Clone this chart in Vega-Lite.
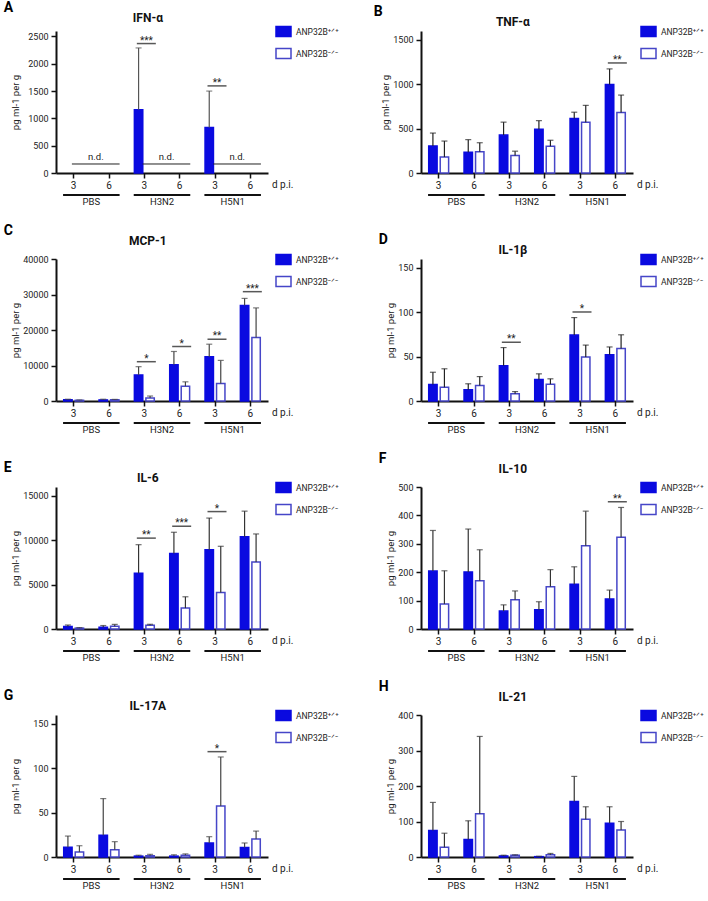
{
  "$schema": "https://vega.github.io/schema/vega-lite/v6.json",
  "background": "white",
  "padding": {"left": 3, "top": 1, "right": 0, "bottom": 0},
  "config": {
    "font": "Roboto",
    "view": {"stroke": null},
    "axis": {"grid": false, "domainColor": "#111", "domainWidth": 2, "tickColor": "#111", "tickWidth": 1.5, "tickSize": 5, "labelFontSize": 9, "labelColor": "#222", "titleFontSize": 9.5, "titleFontWeight": "normal", "titleColor": "#222", "labelPadding": 3, "titlePadding": 2, "labelOverlap": false},
    "legend": {"orient": "none", "legendX": 219, "legendY": -8, "symbolType": "M-1,-0.67H1V0.67H-1Z", "symbolSize": 225, "symbolStrokeWidth": 1.5, "labelFontSize": 8.5, "labelColor": "#222", "rowPadding": 5, "labelOffset": 4, "padding": 0},
    "title": {"fontSize": 14, "fontWeight": "bold", "anchor": "start", "frame": "bounds", "offset": 0, "dy": 7, "dx": -7, "color": "#000"},
    "text": {"fontSize": 9.5, "color": "#222"}
  },
  "datasets": {
    "groups": [{"n": "PBS", "s": "P3", "e": "P6"}, {"n": "H3N2", "s": "A3", "e": "A6"}, {"n": "H5N1", "s": "B3", "e": "B6"}],
    "A": [{"c": "A3", "g": "WT", "m": 1160, "h": 2290}, {"c": "B3", "g": "WT", "m": 835, "h": 1500}],
    "A_sig": [{"c": "A3", "y": 2370, "s": "***"}, {"c": "B3", "y": 1595, "s": "**"}],
    "A_nd": [{"s": "P3", "e": "P6", "y": 165, "t": "n.d."}, {"s": "A3", "e": "A6", "y": 165, "t": "n.d."}, {"s": "B3", "e": "B6", "y": 165, "t": "n.d."}],
    "B": [{"c": "P3", "g": "WT", "m": 305, "h": 450}, {"c": "P3", "g": "KO", "m": 180, "h": 360}, {"c": "P6", "g": "WT", "m": 235, "h": 376}, {"c": "P6", "g": "KO", "m": 239, "h": 341}, {"c": "A3", "g": "WT", "m": 427, "h": 573}, {"c": "A3", "g": "KO", "m": 197, "h": 246}, {"c": "A6", "g": "WT", "m": 492, "h": 590}, {"c": "A6", "g": "KO", "m": 302, "h": 369}, {"c": "B3", "g": "WT", "m": 615, "h": 685}, {"c": "B3", "g": "KO", "m": 573, "h": 762}, {"c": "B6", "g": "WT", "m": 996, "h": 1173}, {"c": "B6", "g": "KO", "m": 683, "h": 878}],
    "B_sig": [{"c": "B6", "y": 1240, "s": "**"}],
    "C": [{"c": "P3", "g": "WT", "m": 350, "h": 500}, {"c": "P3", "g": "KO", "m": 200, "h": 300}, {"c": "P6", "g": "WT", "m": 300, "h": 500}, {"c": "P6", "g": "KO", "m": 350, "h": 450}, {"c": "A3", "g": "WT", "m": 7350, "h": 9670}, {"c": "A3", "g": "KO", "m": 840, "h": 1400}, {"c": "A6", "g": "WT", "m": 10230, "h": 13950}, {"c": "A6", "g": "KO", "m": 4190, "h": 5400}, {"c": "B3", "g": "WT", "m": 12460, "h": 16000}, {"c": "B3", "g": "KO", "m": 4930, "h": 11440}, {"c": "B6", "g": "WT", "m": 26900, "h": 28900}, {"c": "B6", "g": "KO", "m": 17860, "h": 26230}],
    "C_sig": [{"c": "A3", "y": 11070, "s": "*"}, {"c": "A6", "y": 15350, "s": "*"}, {"c": "B3", "y": 17400, "s": "**"}, {"c": "B6", "y": 30800, "s": "***"}],
    "D": [{"c": "P3", "g": "WT", "m": 18.7, "h": 32.4}, {"c": "P3", "g": "KO", "m": 15.5, "h": 36.3}, {"c": "P6", "g": "WT", "m": 12.7, "h": 19.4}, {"c": "P6", "g": "KO", "m": 17.6, "h": 27.5}, {"c": "A3", "g": "WT", "m": 39.8, "h": 60.2}, {"c": "A3", "g": "KO", "m": 8.1, "h": 10.6}, {"c": "A6", "g": "WT", "m": 24.3, "h": 30.6}, {"c": "A6", "g": "KO", "m": 19, "h": 25}, {"c": "B3", "g": "WT", "m": 74.3, "h": 94}, {"c": "B3", "g": "KO", "m": 49.6, "h": 63}, {"c": "B6", "g": "WT", "m": 52.1, "h": 60.9}, {"c": "B6", "g": "KO", "m": 59.1, "h": 74.6}],
    "D_sig": [{"c": "A3", "y": 66.2, "s": "**"}, {"c": "B3", "y": 100.3, "s": "*"}],
    "E": [{"c": "P3", "g": "WT", "m": 280, "h": 450}, {"c": "P3", "g": "KO", "m": 100, "h": 150}, {"c": "P6", "g": "WT", "m": 210, "h": 390}, {"c": "P6", "g": "KO", "m": 300, "h": 520}, {"c": "A3", "g": "WT", "m": 6270, "h": 9500}, {"c": "A3", "g": "KO", "m": 420, "h": 530}, {"c": "A6", "g": "WT", "m": 8520, "h": 10900}, {"c": "A6", "g": "KO", "m": 2360, "h": 3630}, {"c": "B3", "g": "WT", "m": 8940, "h": 12500}, {"c": "B3", "g": "KO", "m": 4110, "h": 9320}, {"c": "B6", "g": "WT", "m": 10390, "h": 13280}, {"c": "B6", "g": "KO", "m": 7540, "h": 10710}],
    "E_sig": [{"c": "A3", "y": 10240, "s": "**"}, {"c": "A6", "y": 11580, "s": "***"}, {"c": "B3", "y": 13230, "s": "*"}],
    "F": [{"c": "P3", "g": "WT", "m": 204, "h": 347}, {"c": "P3", "g": "KO", "m": 88, "h": 205}, {"c": "P6", "g": "WT", "m": 201, "h": 352}, {"c": "P6", "g": "KO", "m": 170, "h": 279}, {"c": "A3", "g": "WT", "m": 63, "h": 85}, {"c": "A3", "g": "KO", "m": 103, "h": 134}, {"c": "A6", "g": "WT", "m": 68, "h": 96}, {"c": "A6", "g": "KO", "m": 149, "h": 209}, {"c": "B3", "g": "WT", "m": 158, "h": 219}, {"c": "B3", "g": "KO", "m": 293, "h": 415}, {"c": "B6", "g": "WT", "m": 106, "h": 137}, {"c": "B6", "g": "KO", "m": 323, "h": 428}],
    "F_sig": [{"c": "B6", "y": 448, "s": "**"}],
    "G": [{"c": "P3", "g": "WT", "m": 10.9, "h": 23.6}, {"c": "P3", "g": "KO", "m": 5.6, "h": 12.7}, {"c": "P6", "g": "WT", "m": 24.6, "h": 65.8}, {"c": "P6", "g": "KO", "m": 8.1, "h": 17.3}, {"c": "A3", "g": "WT", "m": 1, "h": 2}, {"c": "A3", "g": "KO", "m": 1.5, "h": 3}, {"c": "A6", "g": "WT", "m": 1, "h": 2.5}, {"c": "A6", "g": "KO", "m": 2, "h": 3.5}, {"c": "B3", "g": "WT", "m": 15.8, "h": 22.9}, {"c": "B3", "g": "KO", "m": 57.4, "h": 112.7}, {"c": "B6", "g": "WT", "m": 10.6, "h": 15.8}, {"c": "B6", "g": "KO", "m": 20.4, "h": 29.2}],
    "G_sig": [{"c": "B3", "y": 118.7, "s": "*"}],
    "H": [{"c": "P3", "g": "WT", "m": 74.5, "h": 153.8}, {"c": "P3", "g": "KO", "m": 27.4, "h": 67}, {"c": "P6", "g": "WT", "m": 49, "h": 102}, {"c": "P6", "g": "KO", "m": 121.7, "h": 339.6}, {"c": "A3", "g": "WT", "m": 3, "h": 5}, {"c": "A3", "g": "KO", "m": 5, "h": 6}, {"c": "A6", "g": "WT", "m": 1, "h": 2}, {"c": "A6", "g": "KO", "m": 6, "h": 10}, {"c": "B3", "g": "WT", "m": 156.6, "h": 227}, {"c": "B3", "g": "KO", "m": 106.6, "h": 141.5}, {"c": "B6", "g": "WT", "m": 95.3, "h": 141.5}, {"c": "B6", "g": "KO", "m": 76.4, "h": 100}]
  },
  "columns": 2,
  "spacing": {"row": 17, "column": 34},
  "resolve": {"scale": {"fill": "independent", "stroke": "independent"}},
  "concat": [
    {
      "title": {"text": "A"},
      "width": 212, "height": 142,
      "layer": [
        {"data": {"name": "A"}, "mark": {"type": "bar", "strokeWidth": 1.5},
         "encoding": {
           "x": {"field": "c", "type": "nominal", "title": null, "scale": {"domain": ["P3", "P6", "A3", "A6", "B3", "B6"], "paddingInner": 0, "paddingOuter": 0}, "axis": {"orient": "bottom", "title": null, "labelExpr": "slice(datum.value, 1)", "labelAngle": 0, "bandPosition": 0.5, "tickSize": 5, "labelFontSize": 10, "labelPadding": 2}},
           "xOffset": {"field": "g", "type": "nominal", "scale": {"domain": ["WT", "KO"], "paddingInner": 0.27, "paddingOuter": 0.67}},
           "y": {"field": "m", "type": "quantitative", "title": "pg ml-1 per g", "scale": {"domain": [0, 2500]}, "axis": {"title": "pg ml-1 per g", "titlePadding": 7, "values": [0, 500, 1000, 1500, 2000, 2500], "tickCount": 10, "format": "d"}},
           "fill": {"field": "g", "type": "nominal", "scale": {"domain": ["WT", "KO"], "range": ["#0a0ae0", "#ffffff"]}, "legend": {"title": null, "labelExpr": "datum.value == 'WT' ? 'ANP32B⁺ᐟ⁺' : 'ANP32B⁻ᐟ⁻'"}},
           "stroke": {"field": "g", "type": "nominal", "scale": {"domain": ["WT", "KO"], "range": ["#0a0ae0", "#4646c8"]}, "legend": {"title": null, "labelExpr": "datum.value == 'WT' ? 'ANP32B⁺ᐟ⁺' : 'ANP32B⁻ᐟ⁻'"}}
         }},
        {"data": {"name": "A"}, "mark": {"type": "rule", "color": "#555", "strokeWidth": 1.2},
         "encoding": {"x": {"field": "c", "type": "nominal"}, "xOffset": {"field": "g", "type": "nominal"}, "y": {"field": "m", "type": "quantitative"}, "y2": {"field": "h"}}},
        {"data": {"name": "A"}, "mark": {"type": "tick", "orient": "horizontal", "size": 6, "thickness": 1.2, "color": "#555"},
         "encoding": {"x": {"field": "c", "type": "nominal"}, "xOffset": {"field": "g", "type": "nominal"}, "y": {"field": "h", "type": "quantitative"}}},
        {"data": {"name": "A_sig"}, "mark": {"type": "tick", "orient": "horizontal", "size": 19, "thickness": 1.5, "color": "#111", "xOffset": 2},
         "encoding": {"x": {"field": "c", "type": "nominal"}, "y": {"field": "y", "type": "quantitative"}}},
        {"data": {"name": "A_sig"}, "mark": {"type": "text", "baseline": "middle", "dy": -3, "dx": 2, "fontSize": 10},
         "encoding": {"x": {"field": "c", "type": "nominal"}, "y": {"field": "y", "type": "quantitative"}, "text": {"field": "s"}}},
        {"data": {"name": "A_nd"}, "mark": {"type": "rule", "color": "#222", "strokeWidth": 1},
         "encoding": {"x": {"field": "s", "type": "nominal", "bandPosition": 0.45}, "x2": {"field": "e", "bandPosition": 0.8}, "y": {"field": "y", "type": "quantitative"}}},
        {"data": {"name": "A_nd"}, "mark": {"type": "text", "baseline": "bottom", "dy": -2},
         "encoding": {"x": {"field": "e", "type": "nominal", "bandPosition": 0.13}, "y": {"field": "y", "type": "quantitative"}, "text": {"field": "t"}}},
        {"data": {"name": "groups"}, "mark": {"type": "rule", "color": "#111", "strokeWidth": 2, "yOffset": 22},
         "encoding": {"x": {"field": "s", "type": "nominal", "bandPosition": 0.2}, "x2": {"field": "e", "bandPosition": 0.8}, "y": {"datum": 0}}},
        {"data": {"name": "groups"}, "mark": {"type": "text", "baseline": "middle", "dy": 29},
         "encoding": {"x": {"field": "e", "type": "nominal", "bandPosition": 0}, "y": {"datum": 0}, "text": {"field": "n"}}},
        {"data": {"values": [{"t": "d p.i.", "c": "B6", "v": 0}]}, "mark": {"type": "text", "baseline": "middle", "align": "left", "dx": 4, "dy": 12, "fontSize": 10},
         "encoding": {"x": {"field": "c", "type": "nominal", "bandPosition": 1}, "y": {"field": "v", "type": "quantitative"}, "text": {"field": "t"}}},
        {"data": {"values": [{"t": "IFN-α", "c": "A3", "v": 2500}]}, "mark": {"type": "text", "baseline": "middle", "dy": -18, "fontSize": 12, "fontWeight": "bold", "color": "#111"},
         "encoding": {"x": {"field": "c", "type": "nominal", "bandPosition": 0.6}, "y": {"field": "v", "type": "quantitative"}, "text": {"field": "t"}}}
      ]
    },
    {
      "title": {"text": "B"},
      "width": 212, "height": 142,
      "layer": [
        {"data": {"name": "B"}, "mark": {"type": "bar", "strokeWidth": 1.5},
         "encoding": {
           "x": {"field": "c", "type": "nominal", "title": null, "scale": {"domain": ["P3", "P6", "A3", "A6", "B3", "B6"], "paddingInner": 0, "paddingOuter": 0}, "axis": {"orient": "bottom", "title": null, "labelExpr": "slice(datum.value, 1)", "labelAngle": 0, "bandPosition": 0.5, "tickSize": 5, "labelFontSize": 10, "labelPadding": 2}},
           "xOffset": {"field": "g", "type": "nominal", "scale": {"domain": ["WT", "KO"], "paddingInner": 0.27, "paddingOuter": 0.67}},
           "y": {"field": "m", "type": "quantitative", "title": "pg ml-1 per g", "scale": {"domain": [0, 1500]}, "axis": {"title": "pg ml-1 per g", "values": [0, 500, 1000, 1500], "tickCount": 10, "format": "d"}},
           "fill": {"field": "g", "type": "nominal", "scale": {"domain": ["WT", "KO"], "range": ["#0a0ae0", "#ffffff"]}, "legend": {"title": null, "labelExpr": "datum.value == 'WT' ? 'ANP32B⁺ᐟ⁺' : 'ANP32B⁻ᐟ⁻'"}},
           "stroke": {"field": "g", "type": "nominal", "scale": {"domain": ["WT", "KO"], "range": ["#0a0ae0", "#4646c8"]}, "legend": {"title": null, "labelExpr": "datum.value == 'WT' ? 'ANP32B⁺ᐟ⁺' : 'ANP32B⁻ᐟ⁻'"}}
         }},
        {"data": {"name": "B"}, "mark": {"type": "rule", "color": "#222", "strokeWidth": 1.2},
         "encoding": {"x": {"field": "c", "type": "nominal"}, "xOffset": {"field": "g", "type": "nominal"}, "y": {"field": "m", "type": "quantitative"}, "y2": {"field": "h"}}},
        {"data": {"name": "B"}, "mark": {"type": "tick", "orient": "horizontal", "size": 6, "thickness": 1.2, "color": "#222"},
         "encoding": {"x": {"field": "c", "type": "nominal"}, "xOffset": {"field": "g", "type": "nominal"}, "y": {"field": "h", "type": "quantitative"}}},
        {"data": {"name": "B_sig"}, "mark": {"type": "tick", "orient": "horizontal", "size": 19, "thickness": 1.5, "color": "#111", "xOffset": 2},
         "encoding": {"x": {"field": "c", "type": "nominal"}, "y": {"field": "y", "type": "quantitative"}}},
        {"data": {"name": "B_sig"}, "mark": {"type": "text", "baseline": "middle", "dy": -3, "dx": 2, "fontSize": 10},
         "encoding": {"x": {"field": "c", "type": "nominal"}, "y": {"field": "y", "type": "quantitative"}, "text": {"field": "s"}}},
        {"data": {"name": "groups"}, "mark": {"type": "rule", "color": "#111", "strokeWidth": 2, "yOffset": 22},
         "encoding": {"x": {"field": "s", "type": "nominal", "bandPosition": 0.2}, "x2": {"field": "e", "bandPosition": 0.8}, "y": {"datum": 0}}},
        {"data": {"name": "groups"}, "mark": {"type": "text", "baseline": "middle", "dy": 29},
         "encoding": {"x": {"field": "e", "type": "nominal", "bandPosition": 0}, "y": {"datum": 0}, "text": {"field": "n"}}},
        {"data": {"values": [{"t": "d p.i.", "c": "B6", "v": 0}]}, "mark": {"type": "text", "baseline": "middle", "align": "left", "dx": 4, "dy": 12, "fontSize": 10},
         "encoding": {"x": {"field": "c", "type": "nominal", "bandPosition": 1}, "y": {"field": "v", "type": "quantitative"}, "text": {"field": "t"}}},
        {"data": {"values": [{"t": "TNF-α", "c": "A3", "v": 1500}]}, "mark": {"type": "text", "baseline": "middle", "dy": -18, "fontSize": 12, "fontWeight": "bold", "color": "#111"},
         "encoding": {"x": {"field": "c", "type": "nominal", "bandPosition": 0.6}, "y": {"field": "v", "type": "quantitative"}, "text": {"field": "t"}}}
      ]
    },
    {
      "title": {"text": "C"},
      "width": 212, "height": 142,
      "layer": [
        {"data": {"name": "C"}, "mark": {"type": "bar", "strokeWidth": 1.5},
         "encoding": {
           "x": {"field": "c", "type": "nominal", "title": null, "scale": {"domain": ["P3", "P6", "A3", "A6", "B3", "B6"], "paddingInner": 0, "paddingOuter": 0}, "axis": {"orient": "bottom", "title": null, "labelExpr": "slice(datum.value, 1)", "labelAngle": 0, "bandPosition": 0.5, "tickSize": 5, "labelFontSize": 10, "labelPadding": 2}},
           "xOffset": {"field": "g", "type": "nominal", "scale": {"domain": ["WT", "KO"], "paddingInner": 0.27, "paddingOuter": 0.67}},
           "y": {"field": "m", "type": "quantitative", "title": "pg ml-1 per g", "scale": {"domain": [0, 40000]}, "axis": {"title": "pg ml-1 per g", "values": [0, 10000, 20000, 30000, 40000], "tickCount": 10, "format": "d"}},
           "fill": {"field": "g", "type": "nominal", "scale": {"domain": ["WT", "KO"], "range": ["#0a0ae0", "#ffffff"]}, "legend": {"title": null, "labelExpr": "datum.value == 'WT' ? 'ANP32B⁺ᐟ⁺' : 'ANP32B⁻ᐟ⁻'"}},
           "stroke": {"field": "g", "type": "nominal", "scale": {"domain": ["WT", "KO"], "range": ["#0a0ae0", "#4646c8"]}, "legend": {"title": null, "labelExpr": "datum.value == 'WT' ? 'ANP32B⁺ᐟ⁺' : 'ANP32B⁻ᐟ⁻'"}}
         }},
        {"data": {"name": "C"}, "mark": {"type": "rule", "color": "#444", "strokeWidth": 1.2},
         "encoding": {"x": {"field": "c", "type": "nominal"}, "xOffset": {"field": "g", "type": "nominal"}, "y": {"field": "m", "type": "quantitative"}, "y2": {"field": "h"}}},
        {"data": {"name": "C"}, "mark": {"type": "tick", "orient": "horizontal", "size": 6, "thickness": 1.2, "color": "#444"},
         "encoding": {"x": {"field": "c", "type": "nominal"}, "xOffset": {"field": "g", "type": "nominal"}, "y": {"field": "h", "type": "quantitative"}}},
        {"data": {"name": "C_sig"}, "mark": {"type": "tick", "orient": "horizontal", "size": 19, "thickness": 1.5, "color": "#111", "xOffset": 2},
         "encoding": {"x": {"field": "c", "type": "nominal"}, "y": {"field": "y", "type": "quantitative"}}},
        {"data": {"name": "C_sig"}, "mark": {"type": "text", "baseline": "middle", "dy": -3, "dx": 2, "fontSize": 10},
         "encoding": {"x": {"field": "c", "type": "nominal"}, "y": {"field": "y", "type": "quantitative"}, "text": {"field": "s"}}},
        {"data": {"name": "groups"}, "mark": {"type": "rule", "color": "#111", "strokeWidth": 2, "yOffset": 22},
         "encoding": {"x": {"field": "s", "type": "nominal", "bandPosition": 0.2}, "x2": {"field": "e", "bandPosition": 0.8}, "y": {"datum": 0}}},
        {"data": {"name": "groups"}, "mark": {"type": "text", "baseline": "middle", "dy": 29},
         "encoding": {"x": {"field": "e", "type": "nominal", "bandPosition": 0}, "y": {"datum": 0}, "text": {"field": "n"}}},
        {"data": {"values": [{"t": "d p.i.", "c": "B6", "v": 0}]}, "mark": {"type": "text", "baseline": "middle", "align": "left", "dx": 4, "dy": 12, "fontSize": 10},
         "encoding": {"x": {"field": "c", "type": "nominal", "bandPosition": 1}, "y": {"field": "v", "type": "quantitative"}, "text": {"field": "t"}}},
        {"data": {"values": [{"t": "MCP-1", "c": "A3", "v": 40000}]}, "mark": {"type": "text", "baseline": "middle", "dy": -18, "fontSize": 12, "fontWeight": "bold", "color": "#111"},
         "encoding": {"x": {"field": "c", "type": "nominal", "bandPosition": 0.6}, "y": {"field": "v", "type": "quantitative"}, "text": {"field": "t"}}}
      ]
    },
    {
      "title": {"text": "D"},
      "width": 212, "height": 142,
      "layer": [
        {"data": {"name": "D"}, "mark": {"type": "bar", "strokeWidth": 1.5},
         "encoding": {
           "x": {"field": "c", "type": "nominal", "title": null, "scale": {"domain": ["P3", "P6", "A3", "A6", "B3", "B6"], "paddingInner": 0, "paddingOuter": 0}, "axis": {"orient": "bottom", "title": null, "labelExpr": "slice(datum.value, 1)", "labelAngle": 0, "bandPosition": 0.5, "tickSize": 5, "labelFontSize": 10, "labelPadding": 2}},
           "xOffset": {"field": "g", "type": "nominal", "scale": {"domain": ["WT", "KO"], "paddingInner": 0.27, "paddingOuter": 0.67}},
           "y": {"field": "m", "type": "quantitative", "title": "pg ml-1 per g", "scale": {"domain": [0, 150]}, "axis": {"title": "pg ml-1 per g", "values": [0, 50, 100, 150], "tickCount": 10, "format": "d"}},
           "fill": {"field": "g", "type": "nominal", "scale": {"domain": ["WT", "KO"], "range": ["#0a0ae0", "#ffffff"]}, "legend": {"title": null, "labelExpr": "datum.value == 'WT' ? 'ANP32B⁺ᐟ⁺' : 'ANP32B⁻ᐟ⁻'"}},
           "stroke": {"field": "g", "type": "nominal", "scale": {"domain": ["WT", "KO"], "range": ["#0a0ae0", "#4646c8"]}, "legend": {"title": null, "labelExpr": "datum.value == 'WT' ? 'ANP32B⁺ᐟ⁺' : 'ANP32B⁻ᐟ⁻'"}}
         }},
        {"data": {"name": "D"}, "mark": {"type": "rule", "color": "#222", "strokeWidth": 1.2},
         "encoding": {"x": {"field": "c", "type": "nominal"}, "xOffset": {"field": "g", "type": "nominal"}, "y": {"field": "m", "type": "quantitative"}, "y2": {"field": "h"}}},
        {"data": {"name": "D"}, "mark": {"type": "tick", "orient": "horizontal", "size": 6, "thickness": 1.2, "color": "#222"},
         "encoding": {"x": {"field": "c", "type": "nominal"}, "xOffset": {"field": "g", "type": "nominal"}, "y": {"field": "h", "type": "quantitative"}}},
        {"data": {"name": "D_sig"}, "mark": {"type": "tick", "orient": "horizontal", "size": 19, "thickness": 1.5, "color": "#111", "xOffset": 2},
         "encoding": {"x": {"field": "c", "type": "nominal"}, "y": {"field": "y", "type": "quantitative"}}},
        {"data": {"name": "D_sig"}, "mark": {"type": "text", "baseline": "middle", "dy": -3, "dx": 2, "fontSize": 10},
         "encoding": {"x": {"field": "c", "type": "nominal"}, "y": {"field": "y", "type": "quantitative"}, "text": {"field": "s"}}},
        {"data": {"name": "groups"}, "mark": {"type": "rule", "color": "#111", "strokeWidth": 2, "yOffset": 22},
         "encoding": {"x": {"field": "s", "type": "nominal", "bandPosition": 0.2}, "x2": {"field": "e", "bandPosition": 0.8}, "y": {"datum": 0}}},
        {"data": {"name": "groups"}, "mark": {"type": "text", "baseline": "middle", "dy": 29},
         "encoding": {"x": {"field": "e", "type": "nominal", "bandPosition": 0}, "y": {"datum": 0}, "text": {"field": "n"}}},
        {"data": {"values": [{"t": "d p.i.", "c": "B6", "v": 0}]}, "mark": {"type": "text", "baseline": "middle", "align": "left", "dx": 4, "dy": 12, "fontSize": 10},
         "encoding": {"x": {"field": "c", "type": "nominal", "bandPosition": 1}, "y": {"field": "v", "type": "quantitative"}, "text": {"field": "t"}}},
        {"data": {"values": [{"t": "IL-1β", "c": "A3", "v": 150}]}, "mark": {"type": "text", "baseline": "middle", "dy": -18, "fontSize": 12, "fontWeight": "bold", "color": "#111"},
         "encoding": {"x": {"field": "c", "type": "nominal", "bandPosition": 0.6}, "y": {"field": "v", "type": "quantitative"}, "text": {"field": "t"}}}
      ]
    },
    {
      "title": {"text": "E"},
      "width": 212, "height": 142,
      "layer": [
        {"data": {"name": "E"}, "mark": {"type": "bar", "strokeWidth": 1.5},
         "encoding": {
           "x": {"field": "c", "type": "nominal", "title": null, "scale": {"domain": ["P3", "P6", "A3", "A6", "B3", "B6"], "paddingInner": 0, "paddingOuter": 0}, "axis": {"orient": "bottom", "title": null, "labelExpr": "slice(datum.value, 1)", "labelAngle": 0, "bandPosition": 0.5, "tickSize": 5, "labelFontSize": 10, "labelPadding": 2}},
           "xOffset": {"field": "g", "type": "nominal", "scale": {"domain": ["WT", "KO"], "paddingInner": 0.27, "paddingOuter": 0.67}},
           "y": {"field": "m", "type": "quantitative", "title": "pg ml-1 per g", "scale": {"domain": [0, 15000]}, "axis": {"title": "pg ml-1 per g", "values": [0, 5000, 10000, 15000], "tickCount": 10, "format": "d"}},
           "fill": {"field": "g", "type": "nominal", "scale": {"domain": ["WT", "KO"], "range": ["#0a0ae0", "#ffffff"]}, "legend": {"title": null, "labelExpr": "datum.value == 'WT' ? 'ANP32B⁺ᐟ⁺' : 'ANP32B⁻ᐟ⁻'"}},
           "stroke": {"field": "g", "type": "nominal", "scale": {"domain": ["WT", "KO"], "range": ["#0a0ae0", "#4646c8"]}, "legend": {"title": null, "labelExpr": "datum.value == 'WT' ? 'ANP32B⁺ᐟ⁺' : 'ANP32B⁻ᐟ⁻'"}}
         }},
        {"data": {"name": "E"}, "mark": {"type": "rule", "color": "#333", "strokeWidth": 1.2},
         "encoding": {"x": {"field": "c", "type": "nominal"}, "xOffset": {"field": "g", "type": "nominal"}, "y": {"field": "m", "type": "quantitative"}, "y2": {"field": "h"}}},
        {"data": {"name": "E"}, "mark": {"type": "tick", "orient": "horizontal", "size": 6, "thickness": 1.2, "color": "#333"},
         "encoding": {"x": {"field": "c", "type": "nominal"}, "xOffset": {"field": "g", "type": "nominal"}, "y": {"field": "h", "type": "quantitative"}}},
        {"data": {"name": "E_sig"}, "mark": {"type": "tick", "orient": "horizontal", "size": 19, "thickness": 1.5, "color": "#111", "xOffset": 2},
         "encoding": {"x": {"field": "c", "type": "nominal"}, "y": {"field": "y", "type": "quantitative"}}},
        {"data": {"name": "E_sig"}, "mark": {"type": "text", "baseline": "middle", "dy": -3, "dx": 2, "fontSize": 10},
         "encoding": {"x": {"field": "c", "type": "nominal"}, "y": {"field": "y", "type": "quantitative"}, "text": {"field": "s"}}},
        {"data": {"name": "groups"}, "mark": {"type": "rule", "color": "#111", "strokeWidth": 2, "yOffset": 22},
         "encoding": {"x": {"field": "s", "type": "nominal", "bandPosition": 0.2}, "x2": {"field": "e", "bandPosition": 0.8}, "y": {"datum": 0}}},
        {"data": {"name": "groups"}, "mark": {"type": "text", "baseline": "middle", "dy": 29},
         "encoding": {"x": {"field": "e", "type": "nominal", "bandPosition": 0}, "y": {"datum": 0}, "text": {"field": "n"}}},
        {"data": {"values": [{"t": "d p.i.", "c": "B6", "v": 0}]}, "mark": {"type": "text", "baseline": "middle", "align": "left", "dx": 4, "dy": 12, "fontSize": 10},
         "encoding": {"x": {"field": "c", "type": "nominal", "bandPosition": 1}, "y": {"field": "v", "type": "quantitative"}, "text": {"field": "t"}}},
        {"data": {"values": [{"t": "IL-6", "c": "A3", "v": 15000}]}, "mark": {"type": "text", "baseline": "middle", "dy": -18, "fontSize": 12, "fontWeight": "bold", "color": "#111"},
         "encoding": {"x": {"field": "c", "type": "nominal", "bandPosition": 0.6}, "y": {"field": "v", "type": "quantitative"}, "text": {"field": "t"}}}
      ]
    },
    {
      "title": {"text": "F"},
      "width": 212, "height": 142,
      "layer": [
        {"data": {"name": "F"}, "mark": {"type": "bar", "strokeWidth": 1.5},
         "encoding": {
           "x": {"field": "c", "type": "nominal", "title": null, "scale": {"domain": ["P3", "P6", "A3", "A6", "B3", "B6"], "paddingInner": 0, "paddingOuter": 0}, "axis": {"orient": "bottom", "title": null, "labelExpr": "slice(datum.value, 1)", "labelAngle": 0, "bandPosition": 0.5, "tickSize": 5, "labelFontSize": 10, "labelPadding": 2}},
           "xOffset": {"field": "g", "type": "nominal", "scale": {"domain": ["WT", "KO"], "paddingInner": 0.27, "paddingOuter": 0.67}},
           "y": {"field": "m", "type": "quantitative", "title": "pg ml-1 per g", "scale": {"domain": [0, 500]}, "axis": {"title": "pg ml-1 per g", "values": [0, 100, 200, 300, 400, 500], "tickCount": 10, "format": "d"}},
           "fill": {"field": "g", "type": "nominal", "scale": {"domain": ["WT", "KO"], "range": ["#0a0ae0", "#ffffff"]}, "legend": {"title": null, "labelExpr": "datum.value == 'WT' ? 'ANP32B⁺ᐟ⁺' : 'ANP32B⁻ᐟ⁻'"}},
           "stroke": {"field": "g", "type": "nominal", "scale": {"domain": ["WT", "KO"], "range": ["#0a0ae0", "#4646c8"]}, "legend": {"title": null, "labelExpr": "datum.value == 'WT' ? 'ANP32B⁺ᐟ⁺' : 'ANP32B⁻ᐟ⁻'"}}
         }},
        {"data": {"name": "F"}, "mark": {"type": "rule", "color": "#333", "strokeWidth": 1.2},
         "encoding": {"x": {"field": "c", "type": "nominal"}, "xOffset": {"field": "g", "type": "nominal"}, "y": {"field": "m", "type": "quantitative"}, "y2": {"field": "h"}}},
        {"data": {"name": "F"}, "mark": {"type": "tick", "orient": "horizontal", "size": 6, "thickness": 1.2, "color": "#333"},
         "encoding": {"x": {"field": "c", "type": "nominal"}, "xOffset": {"field": "g", "type": "nominal"}, "y": {"field": "h", "type": "quantitative"}}},
        {"data": {"name": "F_sig"}, "mark": {"type": "tick", "orient": "horizontal", "size": 19, "thickness": 1.5, "color": "#111", "xOffset": 2},
         "encoding": {"x": {"field": "c", "type": "nominal"}, "y": {"field": "y", "type": "quantitative"}}},
        {"data": {"name": "F_sig"}, "mark": {"type": "text", "baseline": "middle", "dy": -3, "dx": 2, "fontSize": 10},
         "encoding": {"x": {"field": "c", "type": "nominal"}, "y": {"field": "y", "type": "quantitative"}, "text": {"field": "s"}}},
        {"data": {"name": "groups"}, "mark": {"type": "rule", "color": "#111", "strokeWidth": 2, "yOffset": 22},
         "encoding": {"x": {"field": "s", "type": "nominal", "bandPosition": 0.2}, "x2": {"field": "e", "bandPosition": 0.8}, "y": {"datum": 0}}},
        {"data": {"name": "groups"}, "mark": {"type": "text", "baseline": "middle", "dy": 29},
         "encoding": {"x": {"field": "e", "type": "nominal", "bandPosition": 0}, "y": {"datum": 0}, "text": {"field": "n"}}},
        {"data": {"values": [{"t": "d p.i.", "c": "B6", "v": 0}]}, "mark": {"type": "text", "baseline": "middle", "align": "left", "dx": 4, "dy": 12, "fontSize": 10},
         "encoding": {"x": {"field": "c", "type": "nominal", "bandPosition": 1}, "y": {"field": "v", "type": "quantitative"}, "text": {"field": "t"}}},
        {"data": {"values": [{"t": "IL-10", "c": "A3", "v": 500}]}, "mark": {"type": "text", "baseline": "middle", "dy": -18, "fontSize": 12, "fontWeight": "bold", "color": "#111"},
         "encoding": {"x": {"field": "c", "type": "nominal", "bandPosition": 0.6}, "y": {"field": "v", "type": "quantitative"}, "text": {"field": "t"}}}
      ]
    },
    {
      "title": {"text": "G"},
      "width": 212, "height": 142,
      "layer": [
        {"data": {"name": "G"}, "mark": {"type": "bar", "strokeWidth": 1.5},
         "encoding": {
           "x": {"field": "c", "type": "nominal", "title": null, "scale": {"domain": ["P3", "P6", "A3", "A6", "B3", "B6"], "paddingInner": 0, "paddingOuter": 0}, "axis": {"orient": "bottom", "title": null, "labelExpr": "slice(datum.value, 1)", "labelAngle": 0, "bandPosition": 0.5, "tickSize": 5, "labelFontSize": 10, "labelPadding": 2}},
           "xOffset": {"field": "g", "type": "nominal", "scale": {"domain": ["WT", "KO"], "paddingInner": 0.27, "paddingOuter": 0.67}},
           "y": {"field": "m", "type": "quantitative", "title": "pg ml-1 per g", "scale": {"domain": [0, 150]}, "axis": {"title": "pg ml-1 per g", "titlePadding": 12, "values": [0, 50, 100, 150], "tickCount": 10, "format": "d"}},
           "fill": {"field": "g", "type": "nominal", "scale": {"domain": ["WT", "KO"], "range": ["#0a0ae0", "#ffffff"]}, "legend": {"title": null, "labelExpr": "datum.value == 'WT' ? 'ANP32B⁺ᐟ⁺' : 'ANP32B⁻ᐟ⁻'"}},
           "stroke": {"field": "g", "type": "nominal", "scale": {"domain": ["WT", "KO"], "range": ["#0a0ae0", "#4646c8"]}, "legend": {"title": null, "labelExpr": "datum.value == 'WT' ? 'ANP32B⁺ᐟ⁺' : 'ANP32B⁻ᐟ⁻'"}}
         }},
        {"data": {"name": "G"}, "mark": {"type": "rule", "color": "#444", "strokeWidth": 1.2},
         "encoding": {"x": {"field": "c", "type": "nominal"}, "xOffset": {"field": "g", "type": "nominal"}, "y": {"field": "m", "type": "quantitative"}, "y2": {"field": "h"}}},
        {"data": {"name": "G"}, "mark": {"type": "tick", "orient": "horizontal", "size": 6, "thickness": 1.2, "color": "#444"},
         "encoding": {"x": {"field": "c", "type": "nominal"}, "xOffset": {"field": "g", "type": "nominal"}, "y": {"field": "h", "type": "quantitative"}}},
        {"data": {"name": "G_sig"}, "mark": {"type": "tick", "orient": "horizontal", "size": 19, "thickness": 1.5, "color": "#111", "xOffset": 2},
         "encoding": {"x": {"field": "c", "type": "nominal"}, "y": {"field": "y", "type": "quantitative"}}},
        {"data": {"name": "G_sig"}, "mark": {"type": "text", "baseline": "middle", "dy": -3, "dx": 2, "fontSize": 10},
         "encoding": {"x": {"field": "c", "type": "nominal"}, "y": {"field": "y", "type": "quantitative"}, "text": {"field": "s"}}},
        {"data": {"name": "groups"}, "mark": {"type": "rule", "color": "#111", "strokeWidth": 2, "yOffset": 22},
         "encoding": {"x": {"field": "s", "type": "nominal", "bandPosition": 0.2}, "x2": {"field": "e", "bandPosition": 0.8}, "y": {"datum": 0}}},
        {"data": {"name": "groups"}, "mark": {"type": "text", "baseline": "middle", "dy": 29},
         "encoding": {"x": {"field": "e", "type": "nominal", "bandPosition": 0}, "y": {"datum": 0}, "text": {"field": "n"}}},
        {"data": {"values": [{"t": "d p.i.", "c": "B6", "v": 0}]}, "mark": {"type": "text", "baseline": "middle", "align": "left", "dx": 4, "dy": 12, "fontSize": 10},
         "encoding": {"x": {"field": "c", "type": "nominal", "bandPosition": 1}, "y": {"field": "v", "type": "quantitative"}, "text": {"field": "t"}}},
        {"data": {"values": [{"t": "IL-17A", "c": "A3", "v": 150}]}, "mark": {"type": "text", "baseline": "middle", "dy": -18, "fontSize": 12, "fontWeight": "bold", "color": "#111"},
         "encoding": {"x": {"field": "c", "type": "nominal", "bandPosition": 0.6}, "y": {"field": "v", "type": "quantitative"}, "text": {"field": "t"}}}
      ]
    },
    {
      "title": {"text": "H"},
      "width": 212, "height": 142,
      "layer": [
        {"data": {"name": "H"}, "mark": {"type": "bar", "strokeWidth": 1.5},
         "encoding": {
           "x": {"field": "c", "type": "nominal", "title": null, "scale": {"domain": ["P3", "P6", "A3", "A6", "B3", "B6"], "paddingInner": 0, "paddingOuter": 0}, "axis": {"orient": "bottom", "title": null, "labelExpr": "slice(datum.value, 1)", "labelAngle": 0, "bandPosition": 0.5, "tickSize": 5, "labelFontSize": 10, "labelPadding": 2}},
           "xOffset": {"field": "g", "type": "nominal", "scale": {"domain": ["WT", "KO"], "paddingInner": 0.27, "paddingOuter": 0.67}},
           "y": {"field": "m", "type": "quantitative", "title": "pg ml-1 per g", "scale": {"domain": [0, 400]}, "axis": {"title": "pg ml-1 per g", "values": [0, 100, 200, 300, 400], "tickCount": 10, "format": "d"}},
           "fill": {"field": "g", "type": "nominal", "scale": {"domain": ["WT", "KO"], "range": ["#0a0ae0", "#ffffff"]}, "legend": {"title": null, "labelExpr": "datum.value == 'WT' ? 'ANP32B⁺ᐟ⁺' : 'ANP32B⁻ᐟ⁻'"}},
           "stroke": {"field": "g", "type": "nominal", "scale": {"domain": ["WT", "KO"], "range": ["#0a0ae0", "#4646c8"]}, "legend": {"title": null, "labelExpr": "datum.value == 'WT' ? 'ANP32B⁺ᐟ⁺' : 'ANP32B⁻ᐟ⁻'"}}
         }},
        {"data": {"name": "H"}, "mark": {"type": "rule", "color": "#333", "strokeWidth": 1.2},
         "encoding": {"x": {"field": "c", "type": "nominal"}, "xOffset": {"field": "g", "type": "nominal"}, "y": {"field": "m", "type": "quantitative"}, "y2": {"field": "h"}}},
        {"data": {"name": "H"}, "mark": {"type": "tick", "orient": "horizontal", "size": 6, "thickness": 1.2, "color": "#333"},
         "encoding": {"x": {"field": "c", "type": "nominal"}, "xOffset": {"field": "g", "type": "nominal"}, "y": {"field": "h", "type": "quantitative"}}},
        {"data": {"name": "groups"}, "mark": {"type": "rule", "color": "#111", "strokeWidth": 2, "yOffset": 22},
         "encoding": {"x": {"field": "s", "type": "nominal", "bandPosition": 0.2}, "x2": {"field": "e", "bandPosition": 0.8}, "y": {"datum": 0}}},
        {"data": {"name": "groups"}, "mark": {"type": "text", "baseline": "middle", "dy": 29},
         "encoding": {"x": {"field": "e", "type": "nominal", "bandPosition": 0}, "y": {"datum": 0}, "text": {"field": "n"}}},
        {"data": {"values": [{"t": "d p.i.", "c": "B6", "v": 0}]}, "mark": {"type": "text", "baseline": "middle", "align": "left", "dx": 4, "dy": 12, "fontSize": 10},
         "encoding": {"x": {"field": "c", "type": "nominal", "bandPosition": 1}, "y": {"field": "v", "type": "quantitative"}, "text": {"field": "t"}}},
        {"data": {"values": [{"t": "IL-21", "c": "A3", "v": 400}]}, "mark": {"type": "text", "baseline": "middle", "dy": -18, "fontSize": 12, "fontWeight": "bold", "color": "#111"},
         "encoding": {"x": {"field": "c", "type": "nominal", "bandPosition": 0.6}, "y": {"field": "v", "type": "quantitative"}, "text": {"field": "t"}}}
      ]
    }
  ]
}
